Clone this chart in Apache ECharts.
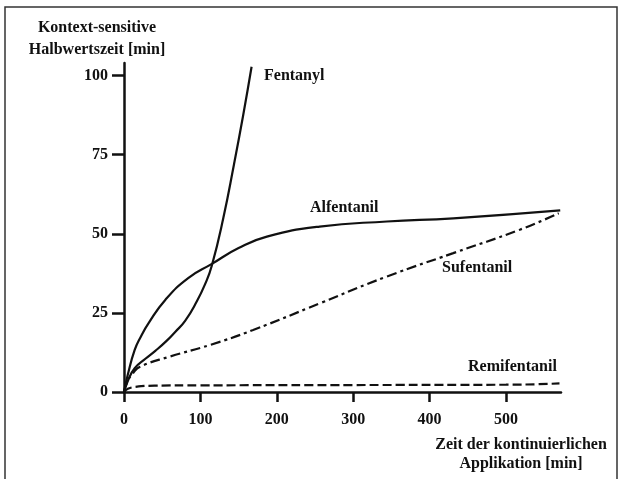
<!DOCTYPE html>
<html>
<head>
<meta charset="utf-8">
<script src="https://cdn.jsdelivr.net/npm/echarts@6/dist/echarts.min.js"></script>
<style>html,body{margin:0;padding:0;background:#fff;}#c{width:624px;height:479px;}</style>
</head>
<body>
<div id="c"></div>
<script>
// Data
const xTicks = [0, 100, 200, 300, 400, 500];
const yTicks = [0, 25, 50, 75, 100];

const fentanylX = [0, 5, 14, 28, 41, 55, 67, 80, 95, 106, 115, 130, 144, 156, 167];
const fentanylY = [0, 3.5, 7.5, 10.5, 13, 16, 19, 22.5, 28.5, 34, 40, 55, 72, 87.5, 102.8];

const alfentanilX = [0, 5, 14, 22, 32, 54, 84, 115, 150, 187, 256, 344, 431, 571];
const alfentanilY = [0, 5.5, 13.3, 17.5, 21.7, 29.1, 36, 40.5, 45.5, 49.1, 52.3, 53.9, 54.9, 57.4];

const sufentanilX = [0, 5, 12, 21, 60, 113, 169, 257, 344, 431, 518, 569];
const sufentanilY = [0, 3.5, 6, 8, 11.2, 14.9, 19.6, 28.1, 36.5, 43.9, 51.3, 56.5];

const remifentanilX = [0, 5, 15, 40, 100, 300, 500, 570];
const remifentanilY = [0, 1, 1.6, 2, 2.1, 2.2, 2.3, 2.7];

const FONT = 'Liberation Serif';
const INK = '#111';

function pairs(xs, ys) { return xs.map((x, i) => [x, ys[i]]); }

function txt(text, x, y, align) {
  return {
    type: 'text', x: x, y: y, silent: true,
    style: { text: text, font: 'bold 16px "' + FONT + '"', fill: INK,
             align: align || 'left', verticalAlign: 'middle' }
  };
}

const chart = echarts.init(document.getElementById('c'), null, { renderer: 'canvas' });
const lineBase = { type: 'line', smooth: 0.5, showSymbol: false, symbol: 'none', silent: true };

chart.setOption({
  animation: false,
  backgroundColor: '#fff',
  grid: { left: 124, top: 63, width: 437, height: 329, containLabel: false },
  xAxis: {
    type: 'value', min: 0, max: 572,
    axisLine: { show: true, onZero: false, lineStyle: { color: INK, width: 2.5 } },
    axisTick: { show: true, length: 10, customValues: xTicks, lineStyle: { color: INK, width: 2.5 } },
    axisLabel: { customValues: xTicks, margin: 20, fontFamily: FONT, fontWeight: 'bold', fontSize: 16, color: INK },
    splitLine: { show: false }
  },
  yAxis: {
    type: 'value', min: 0, max: 104,
    axisLine: { show: true, onZero: false, lineStyle: { color: INK, width: 2.5 } },
    axisTick: { show: true, length: 12, customValues: yTicks, lineStyle: { color: INK, width: 2.5 } },
    axisLabel: { customValues: yTicks, margin: 16, fontFamily: FONT, fontWeight: 'bold', fontSize: 16, color: INK },
    splitLine: { show: false }
  },
  series: [
    Object.assign({}, lineBase, { name: 'Fentanyl', data: pairs(fentanylX, fentanylY),
      lineStyle: { color: INK, width: 2.2 } }),
    Object.assign({}, lineBase, { name: 'Alfentanil', data: pairs(alfentanilX, alfentanilY),
      lineStyle: { color: INK, width: 2.2 } }),
    Object.assign({}, lineBase, { name: 'Sufentanil', data: pairs(sufentanilX, sufentanilY),
      lineStyle: { color: INK, width: 2.2, type: [10, 4, 3, 4] } }),
    Object.assign({}, lineBase, { name: 'Remifentanil', data: pairs(remifentanilX, remifentanilY),
      lineStyle: { color: INK, width: 2.2, type: [9, 4] } })
  ],
  graphic: [
    { type: 'rect', shape: { x: 5, y: 7, width: 612, height: 490 },
      style: { fill: 'none', stroke: '#333', lineWidth: 1.5 }, silent: true },
    txt('Kontext-sensitive', 97, 28, 'center'),
    txt('Halbwertszeit [min]', 97, 50, 'center'),
    txt('Zeit der kontinuierlichen', 521, 445, 'center'),
    txt('Applikation [min]', 521, 464, 'center'),
    txt('Fentanyl', 264, 76),
    txt('Alfentanil', 310, 208),
    txt('Sufentanil', 442, 268),
    txt('Remifentanil', 468, 367)
  ]
});
</script>
</body>
</html>
